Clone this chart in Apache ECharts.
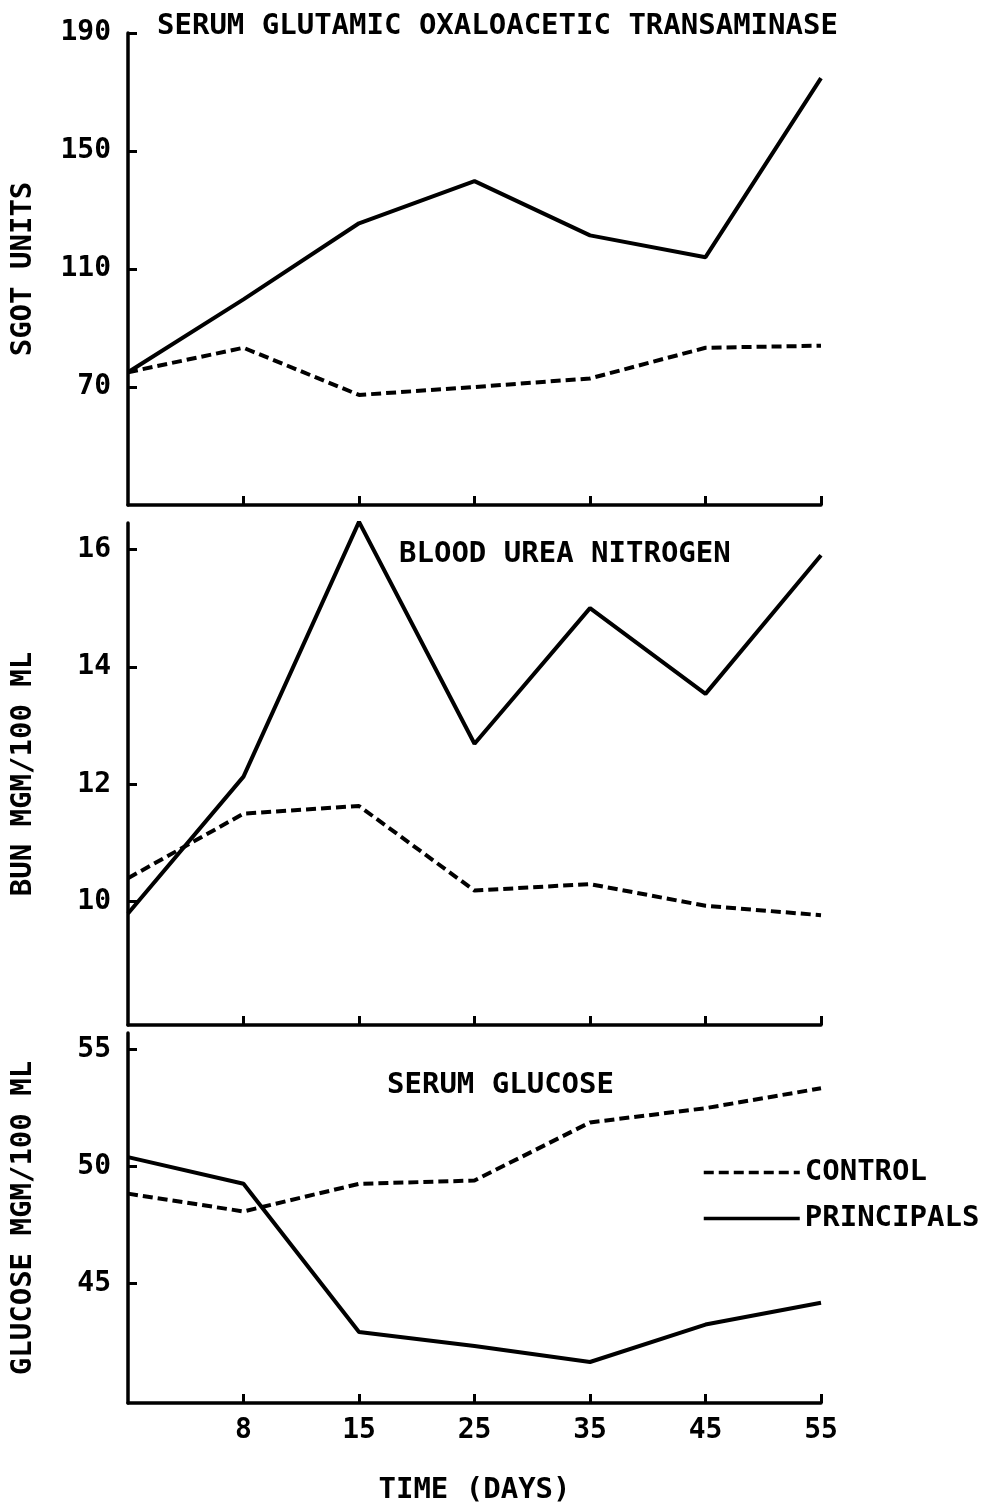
<!DOCTYPE html>
<html>
<head>
<meta charset="utf-8">
<script src="https://cdn.jsdelivr.net/npm/echarts@6/dist/echarts.min.js"></script>
<style>
  html, body { margin: 0; background: #fff; }
  #chart { width: 997px; height: 1507px; }
</style>
</head>
<body>
<div id="chart"></div>
<script>
// days on the shared time axis (first point sits on the y axis, unlabelled)
const days = ['0', '8', '15', '25', '35', '45', '55']

// serum glutamic oxaloacetic transaminase
const sgotControl = [75, 83.3, 67.3, 70, 72.9, 83.3, 84]
const sgotPrincipals = [75, 99.7, 125.5, 139.8, 121.4, 114, 174.7]
const sgotTicks = [70, 110, 150, 190]

// blood urea nitrogen
const bunControl = [10.4, 11.5, 11.63, 10.19, 10.3, 9.93, 9.77]
const bunPrincipals = [9.8, 12.13, 16.47, 12.69, 15.0, 13.54, 15.9]
const bunTicks = [10, 12, 14, 16]

// serum glucose
const glucoseControl = [48.84, 48.08, 49.26, 49.4, 51.88, 52.49, 53.34]
const glucosePrincipals = [50.4, 49.26, 42.93, 42.33, 41.65, 43.25, 44.18]
const glucoseTicks = [45, 50, 55]

const FONT = "'DejaVu Sans Mono', monospace"
const txt = {color: '#000', fontFamily: FONT, fontWeight: 'bold', fontSize: 29}
const tickTxt = {...txt, fontSize: 28}

const chart = echarts.init(document.getElementById('chart'), null, {renderer: 'canvas'})

function xAxis(gridIndex, showLabels) {
  return {
    type: 'category',
    gridIndex: gridIndex,
    data: days,
    boundaryGap: false,
    axisLine: {lineStyle: {color: '#000', width: 3.5}},
    axisTick: {
      inside: true,
      length: 9,
      lineStyle: {color: '#000', width: 3},
      interval: (idx) => idx > 0
    },
    axisLabel: {
      show: showLabels,
      interval: (idx) => idx > 0,
      margin: 14,
      ...tickTxt
    },
    splitLine: {show: false},
    name: showLabels ? 'TIME (DAYS)' : '',
    nameLocation: 'middle',
    nameGap: 73,
    nameTextStyle: txt
  }
}

function yAxis(gridIndex, min, max, ticks, name) {
  return {
    type: 'value',
    gridIndex: gridIndex,
    min: min,
    max: max,
    axisLine: {show: true, lineStyle: {color: '#000', width: 3.5}},
    axisTick: {
      show: true,
      inside: true,
      length: 9,
      customValues: ticks,
      lineStyle: {color: '#000', width: 3}
    },
    axisLabel: {customValues: ticks, margin: 17, ...tickTxt},
    splitLine: {show: false},
    name: name,
    nameLocation: 'middle',
    nameRotate: 90,
    nameGap: 90,
    nameTextStyle: txt
  }
}

function line(name, data, idx, dashed) {
  return {
    name: name,
    type: 'line',
    xAxisIndex: idx,
    yAxisIndex: idx,
    data: data,
    symbol: 'none',
    color: '#000',
    animation: false,
    lineStyle: {color: '#000', width: 4, type: dashed ? [10, 5] : 'solid'}
  }
}

chart.setOption({
  backgroundColor: '#fff',
  animation: false,
  title: [
    {text: 'SERUM GLUTAMIC OXALOACETIC TRANSAMINASE', left: 157, top: 12, padding: 0, textStyle: txt},
    {text: 'BLOOD UREA NITROGEN', left: 399, top: 540, padding: 0, textStyle: txt},
    {text: 'SERUM GLUCOSE', left: 387, top: 1071, padding: 0, textStyle: txt}
  ],
  legend: {
    orient: 'vertical',
    left: 697,
    top: 1153,
    itemWidth: 96,
    itemHeight: 28,
    itemGap: 17,
    data: ['CONTROL', 'PRINCIPALS'],
    itemStyle: {opacity: 0},
    lineStyle: {width: 3.5},
    textStyle: txt
  },
  grid: [
    {left: 128, width: 693, top: 33, height: 472},
    {left: 128, width: 693, top: 523, height: 502},
    {left: 128, width: 693, top: 1033, height: 370}
  ],
  xAxis: [xAxis(0, false), xAxis(1, false), xAxis(2, true)],
  yAxis: [
    yAxis(0, 30, 190, sgotTicks, 'SGOT UNITS'),
    yAxis(1, 7.9, 16.45, bunTicks, 'BUN MGM/100 ML'),
    yAxis(2, 39.9, 55.7, glucoseTicks, 'GLUCOSE MGM/100 ML')
  ],
  series: [
    line('CONTROL', sgotControl, 0, true),
    line('PRINCIPALS', sgotPrincipals, 0, false),
    line('CONTROL', bunControl, 1, true),
    line('PRINCIPALS', bunPrincipals, 1, false),
    line('CONTROL', glucoseControl, 2, true),
    line('PRINCIPALS', glucosePrincipals, 2, false)
  ]
})
</script>
</body>
</html>
